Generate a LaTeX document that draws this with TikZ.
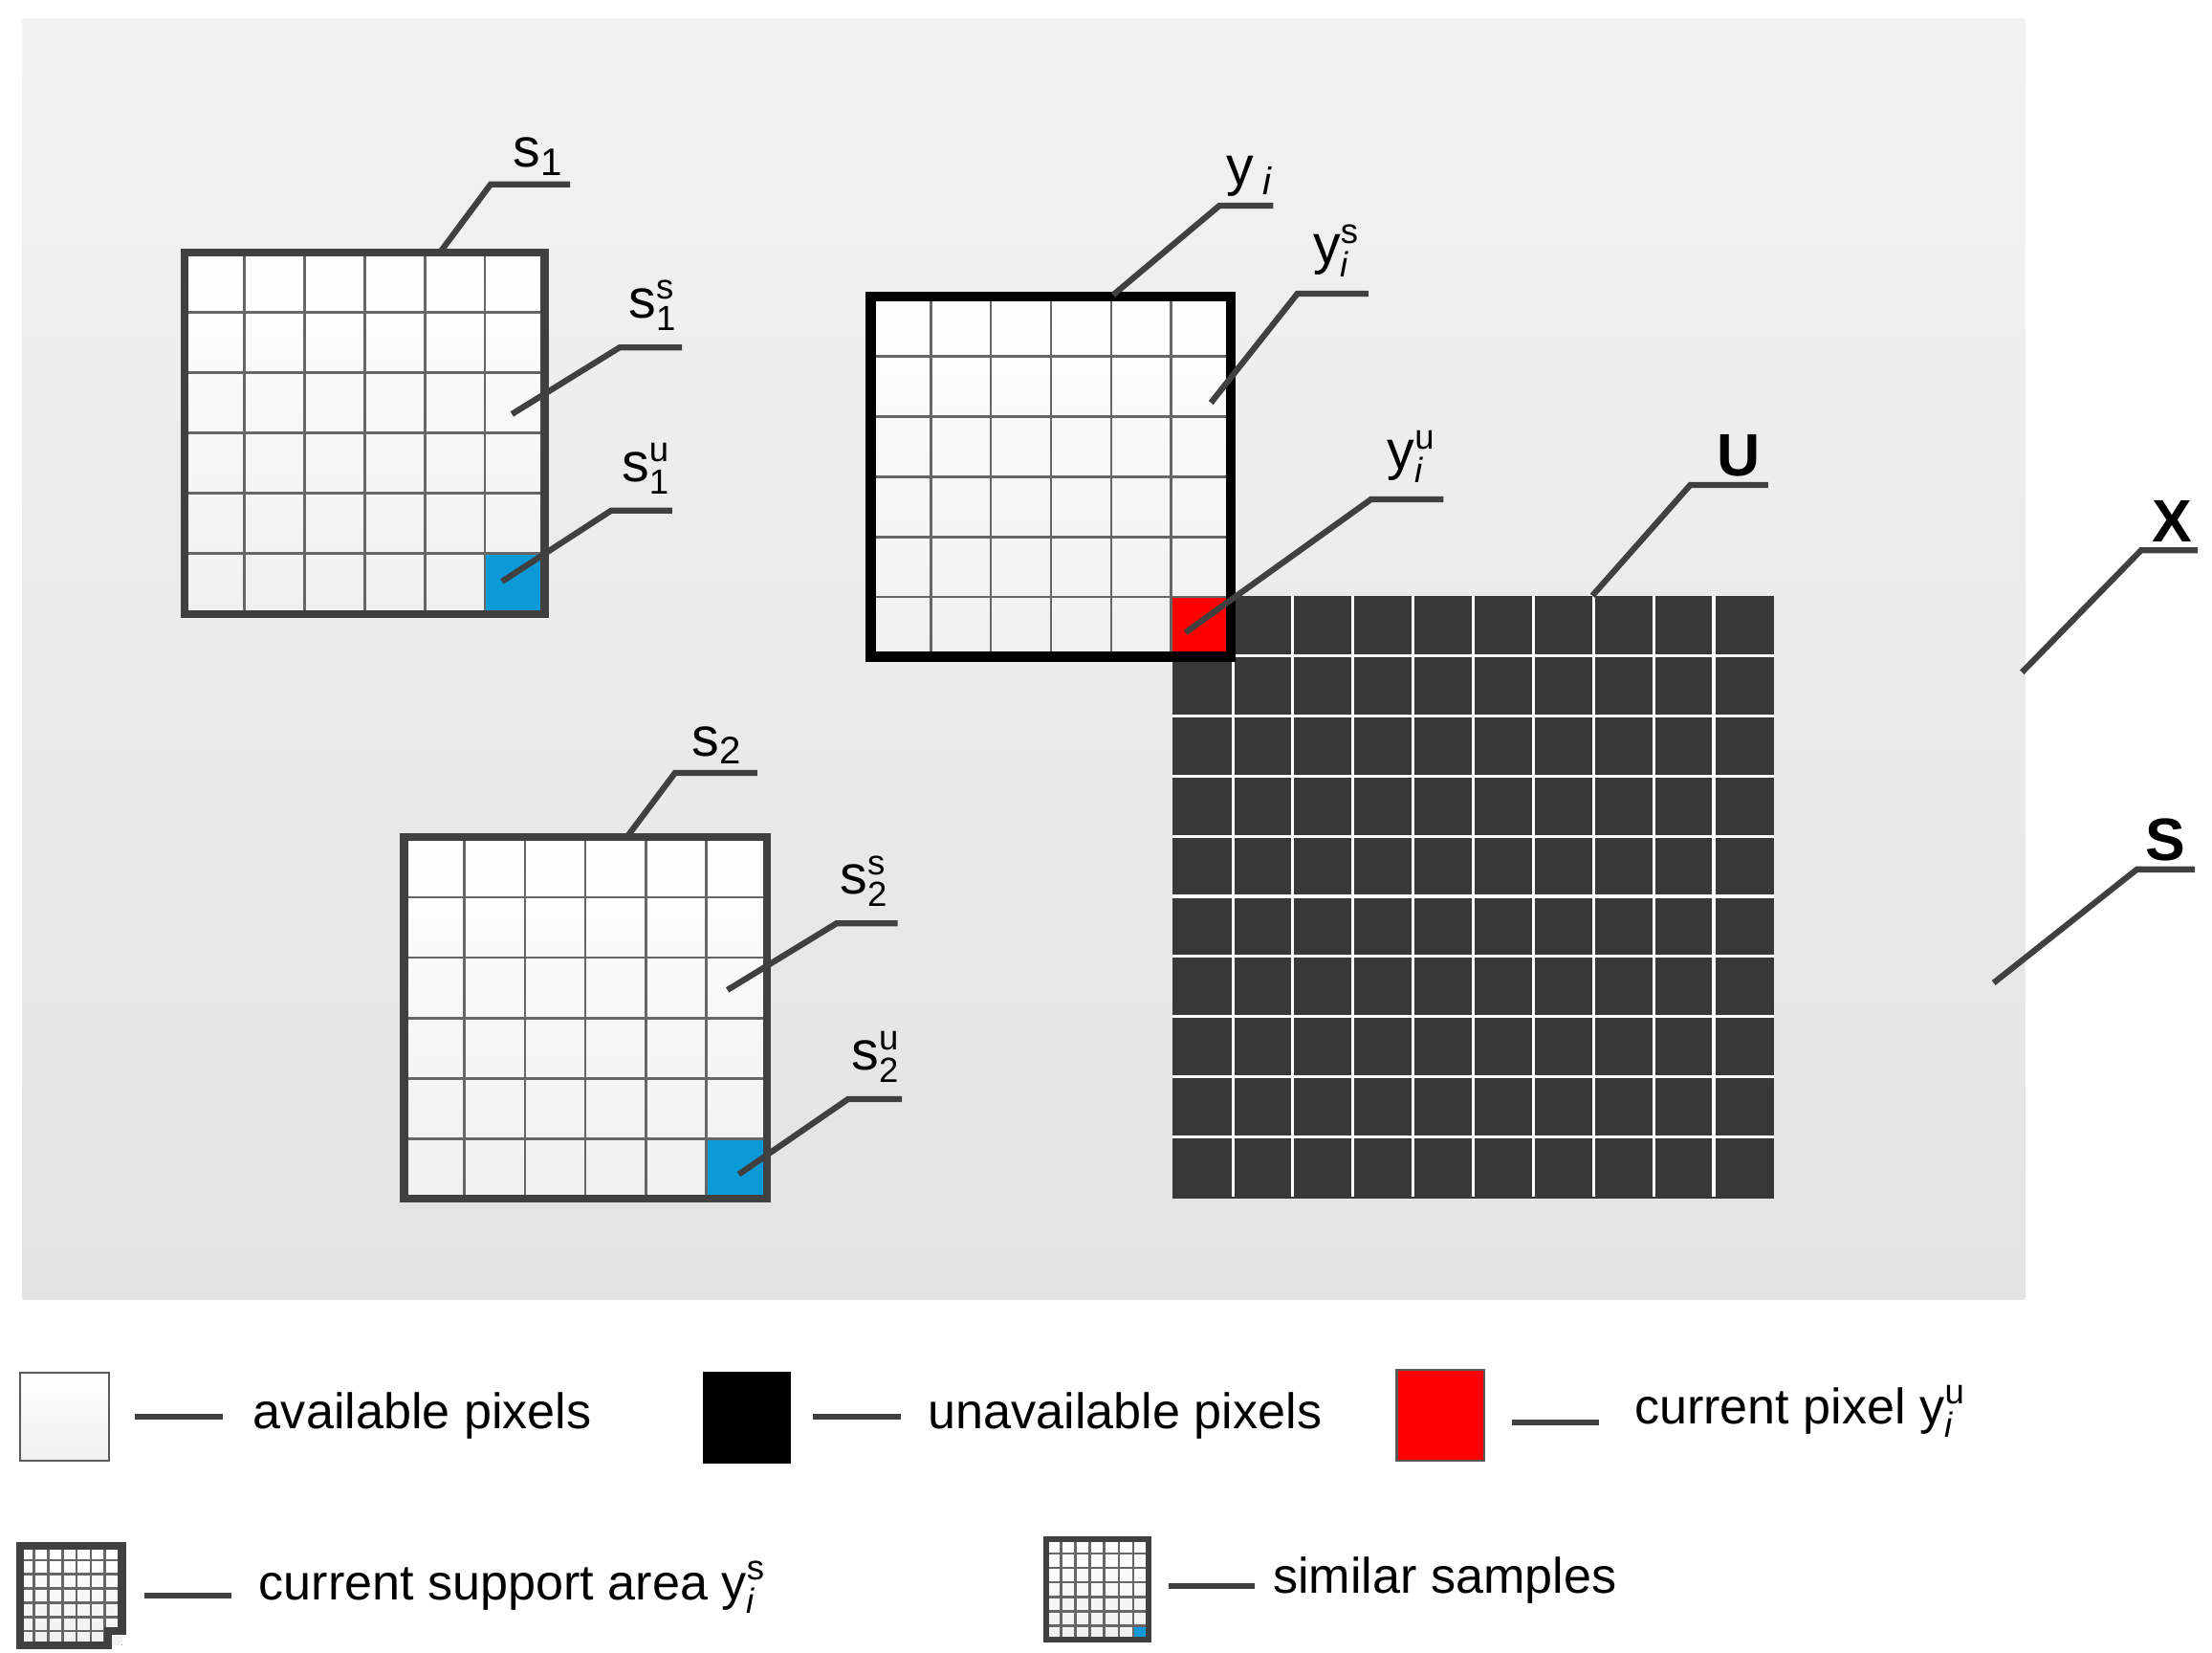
\documentclass[tikz,border=0pt]{standalone}
\usepackage{fontspec}
\setmainfont{Liberation Sans}
\usetikzlibrary{positioning}
\definecolor{framegray}{HTML}{404040}
\definecolor{darkpix}{HTML}{383838}
\definecolor{bluepix}{HTML}{0A9AD8}
\newcommand{\supsub}[3]{#1{\fontsize{7pt}{7pt}\selectfont\renewcommand{\arraystretch}{0.75}\begin{tabular}{@{}l@{}}#2\\#3\end{tabular}}}
% draw an n x n pixel grid, top left corner #1,#2, cell #4
\newcommand{\pixgrid}[5]{%
  \foreach \k in {1,...,\numexpr#3-1\relax}{
    \draw[#5] ({#1+\k*#4},#2) -- ++(0,{#3*#4});
    \draw[#5] (#1,{#2+\k*#4}) -- ++({#3*#4},0);
  }}
\begin{document}
\begin{tikzpicture}[x=0.01cm, y=-0.01cm, line cap=butt]
    % Styles
    \tikzset{
      bg/.style={top color=gray!10, bottom color=gray!22, draw=none},
      avail/.style={top color=white, bottom color=gray!12},
      thinline/.style={draw=gray!80!black, line width=0.5pt},
      whiteline/.style={draw=white, line width=0.6pt},
      frame/.style={draw=framegray, line width=1.6pt},
      leader/.style={draw=framegray, line width=1.2pt},
      lab/.style={anchor=south, inner sep=1pt, font=\fontsize{11pt}{12pt}\selectfont},
      blab/.style={lab, font=\fontsize{12pt}{13pt}\selectfont\bfseries},
      legtext/.style={anchor=west, inner sep=0pt, font=\fontsize{10pt}{12pt}\selectfont}
    }
    \useasboundingbox (0,0) rectangle (1560,1165);
    \fill[bg] (16,13) rectangle (1428,916);

    % U: unavailable pixels
    \fill[darkpix] (827,420) rectangle (1251,845);
    \pixgrid{827}{420}{10}{42.4}{whiteline}

    % s1
    \fill[avail] (130,178) rectangle (384,433);
    \fill[bluepix] (341.6,390.5) rectangle (384,433);
    \pixgrid{130}{178}{6}{42.4}{thinline}
    \draw[frame] (130,178) rectangle (384,433);

    % s2
    \fill[avail] (285,590) rectangle (541,845);
    \fill[bluepix] (498.6,802.6) rectangle (541,845);
    \pixgrid{285}{590}{6}{42.6}{thinline}
    \draw[frame] (285,590) rectangle (541,845);

    % y_i
    \fill[avail] (614,209) rectangle (868,463);
    \fill[red] (825.6,420.6) rectangle (868,463);
    \pixgrid{614}{209}{6}{42.4}{thinline}
    \draw[black, line width=2pt] (614,209) rectangle (868,463);

    % Labels
    \node[lab] (ls1) at (380,128) {s\textsubscript{1}};
    \node[lab] (ls1s) at (460,243) {\supsub{s}{s}{1}};
    \node[lab] (ls1u) at (455,358) {\supsub{s}{u}{1}};
    \node[lab] (lyi) at (882,143) {y\,\textsubscript{\textit{i}}};
    \node[lab] (lyis) at (942,205) {\supsub{y}{s}{\textit{i}}};
    \node[lab] (lyiu) at (995,350) {\supsub{y}{u}{\textit{i}}};
    \node[blab] (lU) at (1226,340) {U};
    \node[blab] (lX) at (1532,386) {X};
    \node[blab] (lS) at (1527,611) {S};
    \node[lab] (ls2) at (506,543) {s\textsubscript{2}};
    \node[lab] (ls2s) at (609,649) {\supsub{s}{s}{2}};
    \node[lab] (ls2u) at (617,773) {\supsub{s}{u}{2}};

    % Leaders
    \draw[leader] (311,177) -- (346,130) -- (402,130);
    \draw[leader] (361,292) -- (437,245) -- (481,245);
    \draw[leader] (354,410) -- (431,360) -- (474,360);
    \draw[leader] (785,208) -- (860,145) -- (898,145);
    \draw[leader] (854,284) -- (915,207) -- (965,207);
    \draw[leader] (836,446) -- (967,352) -- (1018,352);
    \draw[leader] (1123,420) -- (1192,342) -- (1247,342);
    \draw[leader] (1426,474) -- (1510,388) -- (1550,388);
    \draw[leader] (1406,693) -- (1507,613) -- (1548,613);
    \draw[leader] (443,589) -- (476,545) -- (534,545);
    \draw[leader] (513,698) -- (590,651) -- (633,651);
    \draw[leader] (521,828) -- (598,775) -- (636,775);

    % Legend
    \draw[avail, draw=gray!70!black] (14,968) rectangle (77,1030);
    \draw[leader] (95,999) -- (157,999);
    \node[legtext] (lgav) at (178,998) {available pixels};
    \fill[black] (496,967) rectangle (558,1032);
    \draw[leader] (573,999) -- (635,999);
    \node[legtext] (lgun) at (654,998) {unavailable pixels};
    \draw[fill=red, draw=gray!70!black] (985,966) rectangle (1047,1030);
    \draw[leader] (1066,1003) -- (1128,1003);
    \node[legtext] (lgcur) at (1152,998) {current pixel \supsub{y}{u}{\textit{i}}};

    \fill[avail] (14,1090) rectangle (86,1160);
    \pixgrid{14}{1090}{7}{10}{thinline}
    \draw[frame] (14,1090) -- (86,1090) -- (86,1150) -- (76,1150) -- (76,1160) -- (14,1160) -- cycle;
    \draw[leader] (102,1125) -- (163,1125);
    \node[legtext] (lgsup) at (182,1122) {current support area \supsub{y}{s}{\textit{i}}};

    \fill[avail] (738,1085) rectangle (810,1156);
    \fill[bluepix] (800,1146) rectangle (810,1156);
    \pixgrid{738}{1085}{7}{10.2}{thinline}
    \draw[frame, line width=1.2pt] (738,1085) rectangle (810,1156);
    \draw[leader] (824,1118) -- (885,1118);
    \node[legtext] (lgsim) at (897,1114) {similar samples};
\end{tikzpicture}
\end{document}
